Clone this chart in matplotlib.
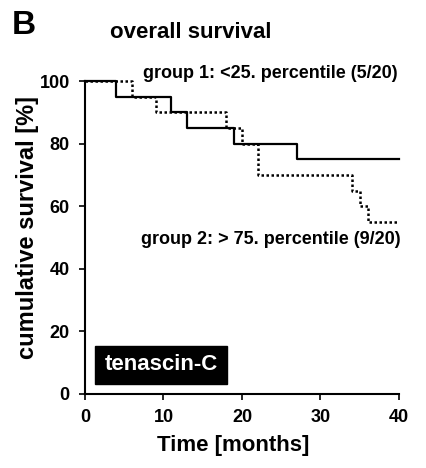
import matplotlib
matplotlib.use("Agg")
import matplotlib.pyplot as plt

plt.rcParams['font.family'] = ['Liberation Sans', 'DejaVu Sans']
plt.rcParams['font.weight'] = 'bold'

# Group 1 (<25. percentile): event times (months) and survival (%)
g1_times = [0, 4, 11, 13, 19, 27, 40]
g1_surv = [100, 95, 90, 85, 80, 75, 75]
# Group 2 (>75. percentile)
g2_times = [0, 6, 9, 18, 20, 22, 34, 35, 36, 40]
g2_surv = [100, 95, 90, 85, 80, 70, 65, 60, 55, 55]

xticks = [0, 10, 20, 30, 40]
yticks = [0, 20, 40, 60, 80, 100]

fig = plt.figure(figsize=(4.27, 4.68), dpi=100)
ax = fig.add_axes([85/427, 1-394/468, 314/427, 313/468])

ax.step(g1_times, g1_surv, where='post', color='black', lw=1.6, clip_on=False)
ax.step(g2_times, g2_surv, where='post', color='black', lw=1.8,
        linestyle=(0, (1, 1)), clip_on=False)

ax.set_xlim(0, 40)
ax.set_ylim(0, 100)
ax.set_xticks(xticks)
ax.set_yticks(yticks)
ax.spines['top'].set_visible(False)
ax.spines['right'].set_visible(False)
for s in ['left', 'bottom']:
    ax.spines[s].set_linewidth(1.5)
ax.tick_params(axis='both', direction='out', length=4, width=1.2,
               labelsize=13)
ax.tick_params(axis='y', pad=7)
ax.tick_params(axis='x', pad=7)
for lab in ax.get_xticklabels() + ax.get_yticklabels():
    lab.set_fontweight('bold')

ax.set_xlabel('Time [months]', fontsize=16, fontweight='bold')
ax.set_ylabel('cumulative survival [%]', fontsize=17, fontweight='bold')
ax.xaxis.set_label_coords(0.473, -0.132)
ax.yaxis.set_label_coords(-0.146, 0.532)

fig.text(12/427, 1-34/468, 'B', fontsize=24, fontweight='bold', ha='left', va='baseline')
fig.text(110/427, 1-38/468, 'overall survival', fontsize=16, fontweight='bold',
         ha='left', va='baseline')
fig.text(143/427, 1-78/468, 'group 1: <25. percentile (5/20)', fontsize=13,
         fontweight='bold', ha='left', va='baseline')
fig.text(141/427, 1-244/468, 'group 2: > 75. percentile (9/20)', fontsize=13,
         fontweight='bold', ha='left', va='baseline')
fig.text(161/427, 1-365/468, 'tenascin-C', fontsize=16, fontweight='bold',
         color='white', ha='center', va='center',
         bbox=dict(boxstyle='square,pad=0.4', facecolor='black', edgecolor='black'))

fig.savefig('out.png', dpi=100)
